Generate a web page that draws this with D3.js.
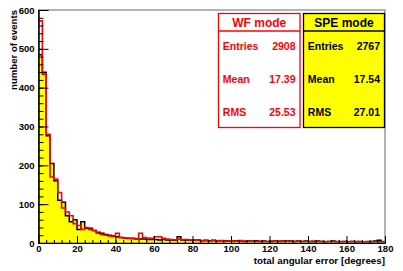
<!DOCTYPE html>
<html>
<head>
<meta charset="utf-8">
<script src="https://cdn.jsdelivr.net/npm/d3@7"></script>
<style>
  body { margin: 0; background: #fff; }
  svg { display: block; font-family: "Liberation Sans", Arial, sans-serif; font-weight: bold; }
</style>
</head>
<body>
<svg id="chart" width="403" height="271"></svg>
<script>
// bin edges: 2 degree bins from 0 to 180
const binWidth = 2;
const xTicks = [0, 20, 40, 60, 80, 100, 120, 140, 160, 180];
const yTicks = [0, 100, 200, 300, 400, 500, 600];

// SPE mode (yellow filled, black outline)
const speCounts = [
  485, 440, 276, 205, 160, 110, 105, 70, 55, 60,
  35, 55, 38, 38, 32, 28, 25, 22, 20, 18,
  16, 14, 13, 12, 12, 11, 10, 10, 9, 9,
  9, 8, 9, 8, 8, 7, 16, 8, 8, 7,
  7, 8, 6, 7, 6, 7, 5, 6, 6, 5,
  5, 6, 5, 4, 5, 5, 6, 4, 5, 4,
  4, 5, 4, 5, 6, 5, 4, 5, 4, 5,
  4, 3, 5, 4, 3, 4, 5, 4, 3, 4,
  3, 4, 3, 4, 3, 3, 4, 5, 7, 3
];

// WF mode (red line)
const wfCounts = [
  572, 435, 280, 170, 165, 130, 90, 80, 70, 50,
  45, 35, 40, 35, 32, 25, 22, 20, 18, 17,
  25, 14, 13, 12, 11, 10, 25, 14, 13, 12,
  16, 16, 12, 10, 9, 8, 10, 9, 9, 8,
  8, 7, 6, 6, 5, 6, 5, 6, 5, 5,
  5, 5, 6, 5, 4, 5, 4, 5, 4, 4,
  5, 4, 5, 4, 5, 4, 4, 5, 4, 4,
  4, 5, 4, 4, 3, 4, 4, 3, 4, 4,
  3, 4, 4, 3, 3, 4, 3, 3, 3, 4
];

const statLabels = ["Entries", "Mean", "RMS"];
const wfStats = ["2908", "17.39", "25.53"];
const speStats = ["2767", "17.54", "27.01"];

const svg = d3.select("#chart");
const x = d3.scaleLinear().domain([0, 180]).range([38.5, 385]);
const y = d3.scaleLinear().domain([0, 600]).range([243, 10]);

// turn counts into step points (left edge of every bin + closing edge)
const toSteps = (counts) => {
  let pts = counts.map((c, i) => [i * binWidth, c]);
  pts.push([counts.length * binWidth, counts[counts.length - 1]]);
  return pts;
}

const area = d3.area()
  .curve(d3.curveStepAfter)
  .x(d => x(d[0]))
  .y0(y(0))
  .y1(d => y(d[1]));

const line = d3.line()
  .curve(d3.curveStepAfter)
  .x(d => x(d[0]))
  .y(d => y(d[1]));

const speSteps = toSteps(speCounts);
const wfSteps = toSteps(wfCounts);

svg.append("path").attr("d", area(speSteps)).attr("fill", "#ffff00");
svg.append("path").attr("d", line(speSteps)).attr("fill", "none")
  .attr("stroke", "#000").attr("stroke-width", 1.5);
svg.append("path").attr("d", line(wfSteps)).attr("fill", "none")
  .attr("stroke", "#ff0000").attr("stroke-width", 1.6);

// frame
svg.append("rect")
  .attr("x", x(0)).attr("y", y(600))
  .attr("width", x(180) - x(0)).attr("height", y(0) - y(600))
  .attr("fill", "none").attr("stroke", "#666").attr("stroke-width", 1);

// y axis
const yMinor = svg.append("g").attr("transform", `translate(${x(0)},0)`)
  .call(d3.axisLeft(y).tickValues(d3.range(0, 601, 20)).tickSizeInner(-5).tickSizeOuter(0).tickFormat(""));
const yAxis = svg.append("g").attr("transform", `translate(${x(0)},0)`)
  .call(d3.axisLeft(y).tickValues(yTicks).tickSizeInner(-10).tickSizeOuter(0).tickPadding(4));

// x axis
const xMinor = svg.append("g").attr("transform", `translate(0,${y(0)})`)
  .call(d3.axisBottom(x).tickValues(d3.range(0, 181, 4)).tickSizeInner(-3).tickSizeOuter(0).tickFormat(""));
const xAxis = svg.append("g").attr("transform", `translate(0,${y(0)})`)
  .call(d3.axisBottom(x).tickValues(xTicks).tickSizeInner(-7).tickSizeOuter(0).tickPadding(2.5));

[yMinor, yAxis, xMinor, xAxis].forEach(g => {
  g.select(".domain").attr("stroke", "#000").attr("stroke-width", 1);
  g.selectAll(".tick line").attr("stroke", "#000");
  g.selectAll("text").attr("font-size", 9.5).attr("font-weight", "bold")
    .attr("font-family", "Liberation Sans, Arial, sans-serif").attr("fill", "#000");
});

// axis titles
svg.append("text")
  .attr("transform", "translate(16.5,10) rotate(-90)")
  .attr("text-anchor", "end")
  .attr("font-size", 9.6)
  .text("number of events");

svg.append("text")
  .attr("x", 385).attr("y", 264)
  .attr("text-anchor", "end")
  .attr("font-size", 9.8)
  .text("total angular error [degrees]");

// stat boxes
const drawStatBox = (x0, x1, title, values, color, fill) => {
  const top = 13.5, bottom = 127.5, sep = 31;
  const g = svg.append("g");
  g.append("rect")
    .attr("x", x0).attr("y", top).attr("width", x1 - x0).attr("height", bottom - top)
    .attr("fill", fill).attr("stroke", color).attr("stroke-width", 1.3);
  g.append("line")
    .attr("x1", x0).attr("x2", x1).attr("y1", sep).attr("y2", sep)
    .attr("stroke", color).attr("stroke-width", 1.3);
  g.append("text")
    .attr("x", (x0 + x1) / 2).attr("y", 26.5)
    .attr("text-anchor", "middle").attr("font-size", 12).attr("fill", color)
    .text(title);
  const rowY = [50, 82.7, 116];
  statLabels.forEach((lab, i) => {
    g.append("text").attr("x", x0 + 4.3).attr("y", rowY[i])
      .attr("font-size", 10.5).attr("fill", color).text(lab);
    g.append("text").attr("x", x1 - 4.5).attr("y", rowY[i])
      .attr("text-anchor", "end").attr("font-size", 10.5).attr("fill", color).text(values[i]);
  });
}

drawStatBox(218.5, 300, "WF mode", wfStats, "#ff0000", "#fff");
drawStatBox(303.5, 384.5, "SPE mode", speStats, "#000", "#ffff00");
</script>
</body>
</html>
